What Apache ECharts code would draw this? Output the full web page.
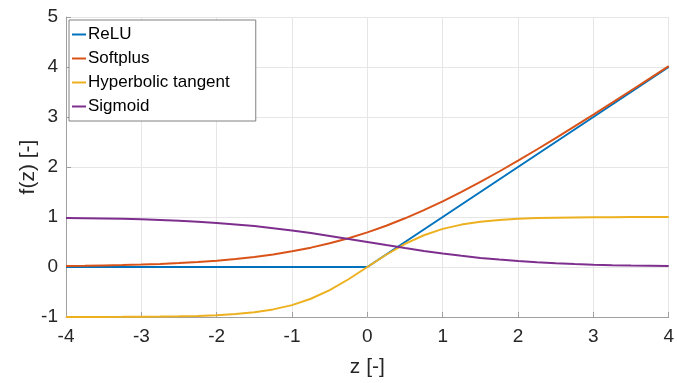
<!DOCTYPE html>
<html><head><meta charset="utf-8">
<script src="https://cdn.jsdelivr.net/npm/echarts@6/dist/echarts.min.js"></script>
<style>html,body{margin:0;padding:0;background:#fff}#c{width:677px;height:383px}</style>
</head><body><div id="c"></div>
<script>
var zValues = [-4,-3.75,-3.5,-3.25,-3,-2.75,-2.5,-2.25,-2,-1.75,-1.5,-1.25,-1,-0.75,-0.5,-0.25,0,0.25,0.5,0.75,1,1.25,1.5,1.75,2,2.25,2.5,2.75,3,3.25,3.5,3.75,4];
var reluZ = [-4, 0, 4];
var reluValues = [0, 0, 4];
var softplusValues = [0.018,0.023,0.030,0.038,0.049,0.062,0.079,0.100,0.127,0.160,0.201,0.252,0.313,0.387,0.474,0.576,0.693,0.826,0.974,1.137,1.313,1.502,1.701,1.910,2.127,2.350,2.579,2.812,3.049,3.288,3.530,3.773,4.018];
var tanhValues = [-0.999,-0.999,-0.998,-0.997,-0.995,-0.992,-0.987,-0.978,-0.964,-0.941,-0.905,-0.848,-0.762,-0.635,-0.462,-0.245,0,0.245,0.462,0.635,0.762,0.848,0.905,0.941,0.964,0.978,0.987,0.992,0.995,0.997,0.998,0.999,0.999];
var sigmoidValues = [0.982,0.977,0.971,0.963,0.953,0.940,0.924,0.905,0.881,0.852,0.818,0.777,0.731,0.679,0.622,0.562,0.5,0.438,0.378,0.321,0.269,0.223,0.182,0.148,0.119,0.095,0.076,0.060,0.047,0.037,0.029,0.023,0.018];
var seriesNames = ['ReLU','Softplus','Hyperbolic tangent','Sigmoid'];
var seriesColors = ['#0072BD','#D95319','#EDB120','#7E2F8E'];
var xTitle = 'z [-]';
var yTitle = 'f(z) [-]';

function pairs(xs, ys){ return xs.map(function(x,i){ return [x, ys[i]]; }); }
var font = "'Liberation Sans', Arial, Helvetica, sans-serif";
var dataSets = [pairs(reluZ, reluValues), pairs(zValues, softplusValues), pairs(zValues, tanhValues), pairs(zValues, sigmoidValues)];

var chart = echarts.init(document.getElementById('c'), null, {renderer:'canvas'});
chart.setOption({
  animation: false,
  backgroundColor: '#fff',
  textStyle: {fontFamily: font},
  grid: {left: 66, right: 4, top: 17, bottom: 65, containLabel: false},
  legend: {
    orient: 'vertical', left: 69, top: 20,
    padding: [6, 26, 6, 3], itemGap: 7, itemWidth: 14, itemHeight: 2,
    icon: 'rect',
    backgroundColor: '#fff', borderColor: '#808080', borderWidth: 1,
    textStyle: {fontSize: 17, color: '#000', fontFamily: font, lineHeight: 17, padding: [0,0,0,-3]},
    data: seriesNames
  },
  xAxis: {
    type: 'value', min: -4, max: 4, interval: 1,
    name: xTitle, nameLocation: 'middle', nameGap: 40, nameMoveOverlap: false,
    nameTextStyle: {fontSize: 21, color: '#262626', fontFamily: font},
    axisLine: {onZero: false, lineStyle: {color: '#a0a0a0', width: 1}},
    axisTick: {show: true, inside: true, length: 5, lineStyle: {color: '#a0a0a0'}},
    axisLabel: {fontSize: 19, color: '#262626', margin: 10, fontFamily: font},
    splitLine: {show: true, lineStyle: {color: '#e6e6e6', width: 1}}
  },
  yAxis: {
    type: 'value', min: -1, max: 5, interval: 1,
    name: yTitle, nameLocation: 'middle', nameGap: 27, nameMoveOverlap: false,
    nameTextStyle: {fontSize: 21, color: '#262626', fontFamily: font},
    axisLine: {show: true, onZero: false, lineStyle: {color: '#a0a0a0', width: 1}},
    axisTick: {show: true, inside: true, length: 5, lineStyle: {color: '#a0a0a0'}},
    axisLabel: {fontSize: 19, color: '#262626', margin: 8, fontFamily: font},
    splitLine: {show: true, lineStyle: {color: '#e6e6e6', width: 1}}
  },
  series: seriesNames.map(function(n, i){
    return {
      name: n, type: 'line', data: dataSets[i],
      symbol: 'none', showSymbol: false, smooth: false,
      color: seriesColors[i],
      lineStyle: {color: seriesColors[i], width: 2}
    };
  })
});
</script></body></html>
